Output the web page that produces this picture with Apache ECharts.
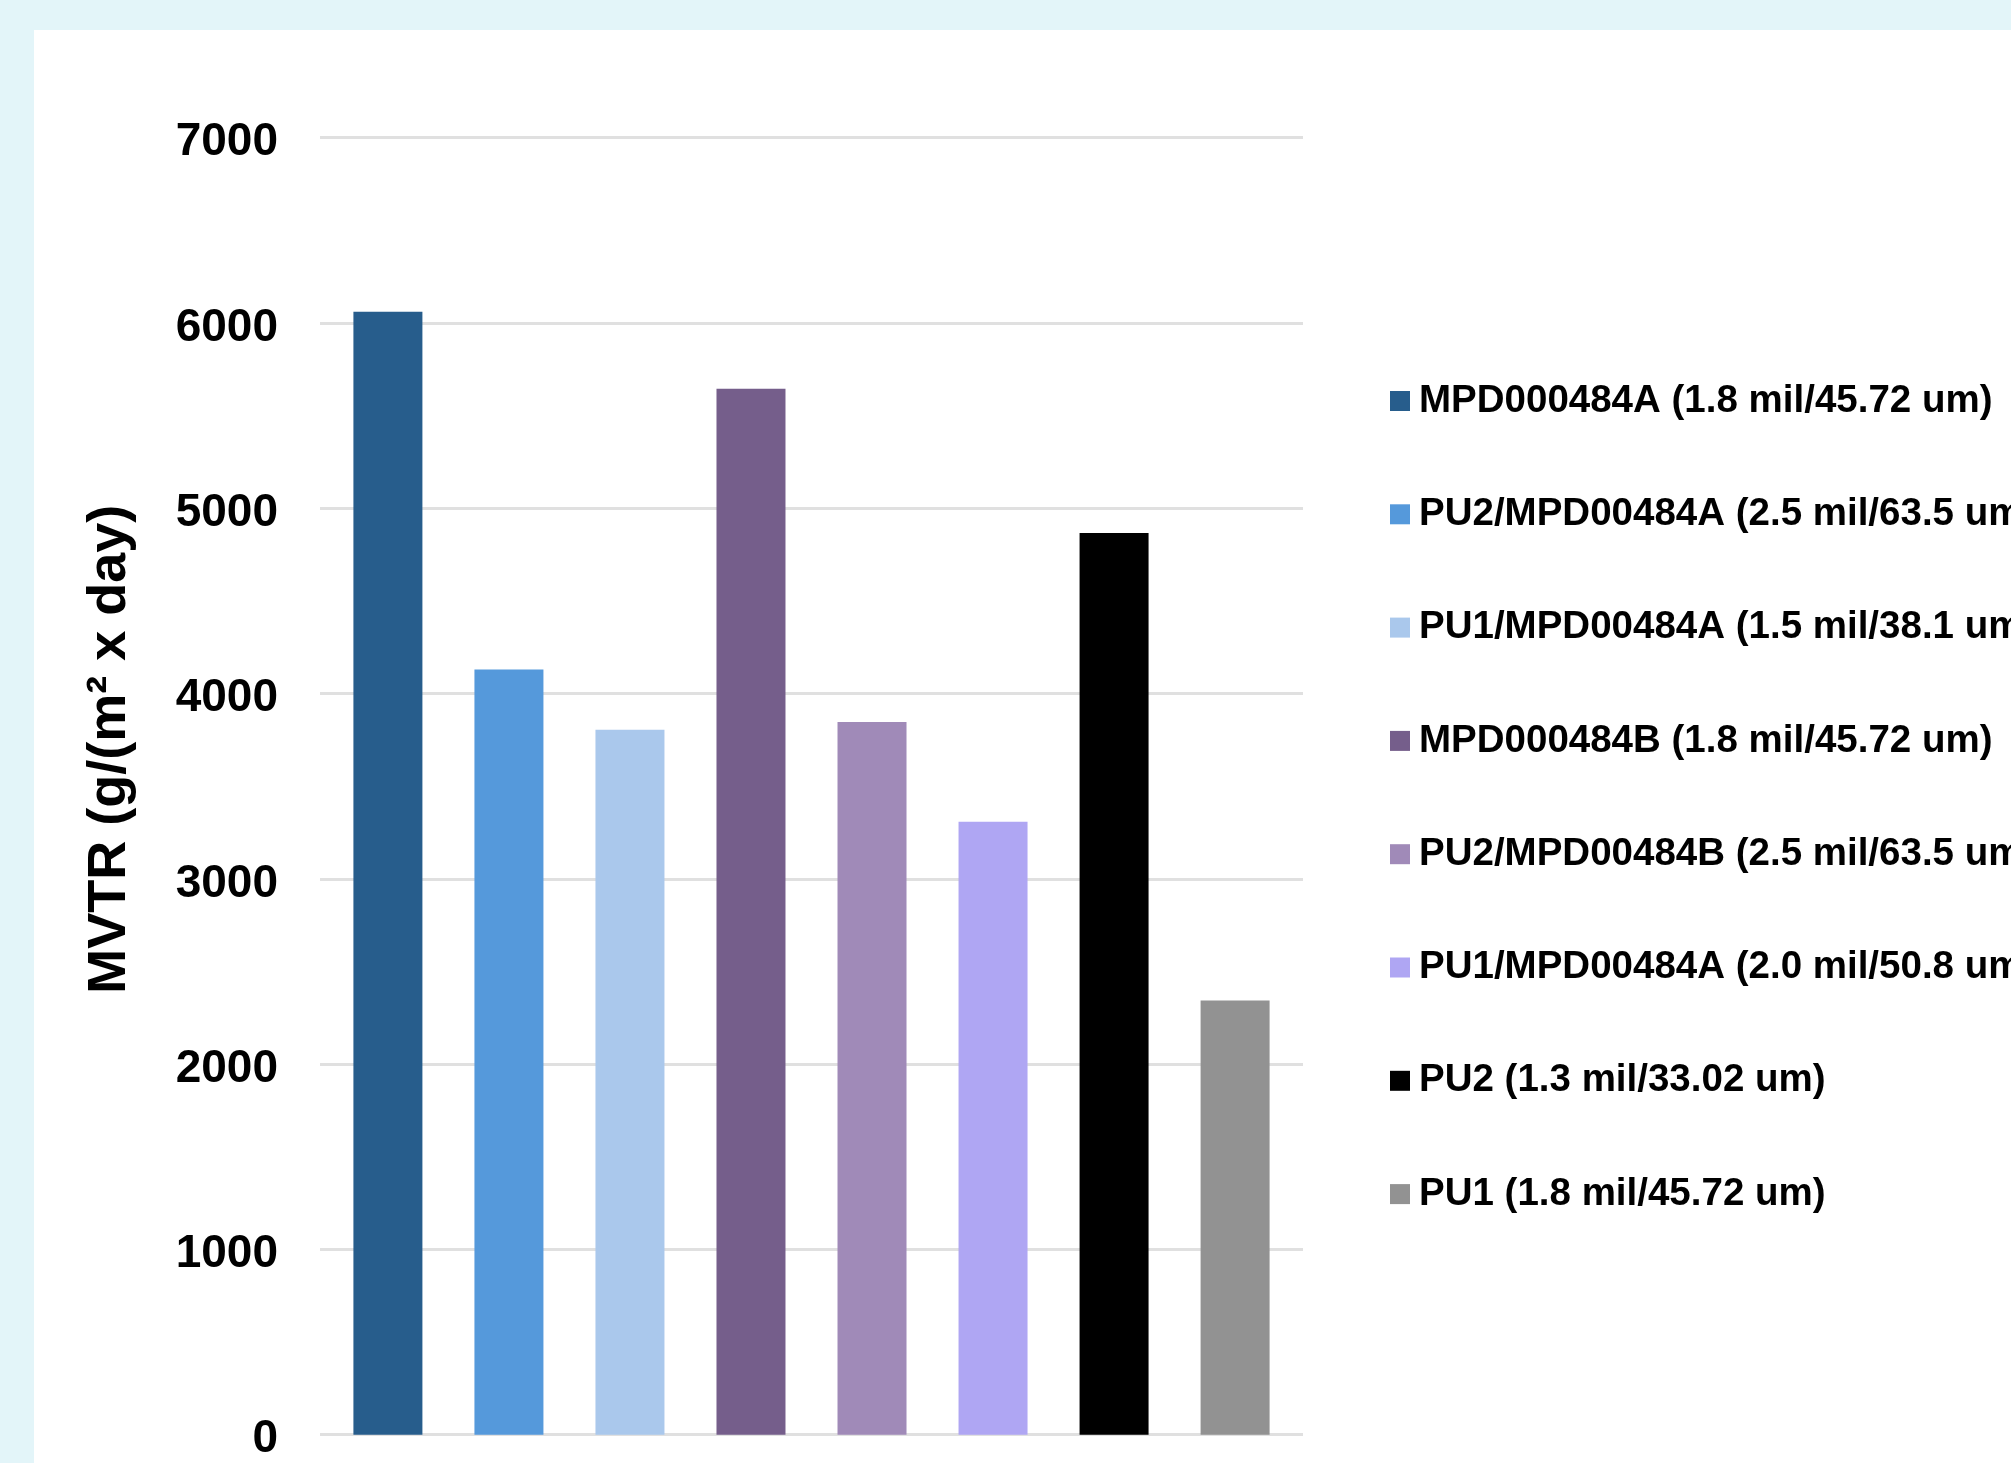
<!DOCTYPE html>
<html>
<head>
<meta charset="utf-8">
<script src="https://cdn.jsdelivr.net/npm/echarts@6/dist/echarts.min.js"></script>
<style>
  html, body { margin: 0; padding: 0; width: 2011px; height: 1463px; background: #e3f5f9; overflow: hidden; }
  #chart { position: absolute; left: 34px; top: 30px; width: 1977px; height: 1433px; background: #ffffff; }
</style>
</head>
<body>
<div id="chart"></div>
<script>
// Data
const categories = [''];
const seriesNames = [
  'MPD000484A (1.8 mil/45.72 um)',
  'PU2/MPD00484A (2.5 mil/63.5 um)',
  'PU1/MPD00484A (1.5 mil/38.1 um)',
  'MPD000484B (1.8 mil/45.72 um)',
  'PU2/MPD00484B (2.5 mil/63.5 um)',
  'PU1/MPD00484A (2.0 mil/50.8 um)',
  'PU2 (1.3 mil/33.02 um)',
  'PU1 (1.8 mil/45.72 um)'
];
const seriesValues = [6060, 4130, 3805, 5645, 3846, 3308, 4866, 2344];
const seriesColors = ['#275d8c', '#5599db', '#aac8ec', '#755e8b', '#a08ab8', '#afa6f3', '#000000', '#929292'];
const yTicks = { min: 0, max: 7000, interval: 1000 };
const yAxisName = 'MVTR (g/(m² x day)';

const FONT = '"Liberation Sans", Arial, Helvetica, sans-serif';

const chart = echarts.init(document.getElementById('chart'), null, { renderer: 'canvas' });

const series = seriesNames.map((name, i) => ({
  name: name,
  type: 'bar',
  data: [seriesValues[i]],
  barWidth: 69,
  barGap: '75.4%',
  itemStyle: { color: seriesColors[i] },
  emphasis: { disabled: true }
}));

chart.setOption({
  animation: false,
  backgroundColor: '#ffffff',
  textStyle: { fontFamily: FONT },
  grid: { left: 286, right: 708, top: 107.7, bottom: 28.3, containLabel: false },
  legend: {
    data: seriesNames,
    orient: 'vertical',
    left: 1356,
    top: 351,
    padding: 0,
    itemWidth: 20,
    itemHeight: 20,
    itemGap: 73.3,
    icon: 'rect',
    textStyle: { fontFamily: FONT, fontSize: 38.5, fontWeight: 'bold', color: '#000000', lineHeight: 40, padding: [0, 0, 0, 4] },
    selectedMode: false
  },
  xAxis: {
    type: 'category',
    data: categories,
    axisLine: { show: false },
    axisTick: { show: false },
    axisLabel: { show: false },
    splitLine: { show: false }
  },
  yAxis: {
    type: 'value',
    min: yTicks.min,
    max: yTicks.max,
    interval: yTicks.interval,
    name: yAxisName,
    nameLocation: 'middle',
    nameGap: 183,
    nameRotate: 90,
    nameTextStyle: { fontFamily: FONT, fontSize: 54, fontWeight: 'bold', color: '#000000', padding: [0, 0, 0, 74] },
    axisLine: { show: false },
    axisTick: { show: false },
    axisLabel: {
      margin: 42,
      formatter: function (v) { return '{t|' + v + '}'; },
      rich: {
        t: { fontFamily: FONT, fontSize: 46, fontWeight: 'bold', color: '#000000', lineHeight: 46, padding: [10, 0, 0, 0] }
      }
    },
    splitLine: { show: true, lineStyle: { color: '#e0e0e0', width: 3 } }
  },
  series: series
});
</script>
</body>
</html>
